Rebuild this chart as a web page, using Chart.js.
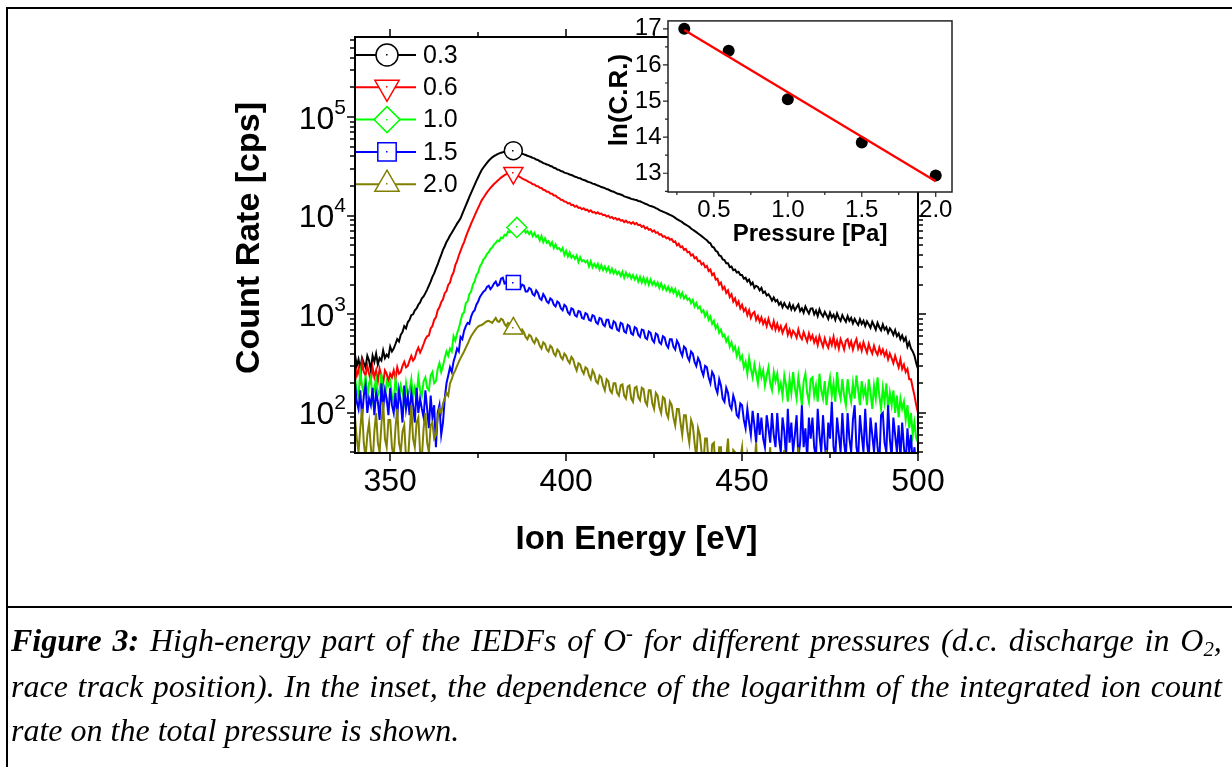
<!DOCTYPE html>
<html>
<head>
<meta charset="utf-8">
<script src="https://cdn.jsdelivr.net/npm/chart.js@4.4.1/dist/chart.umd.min.js"></script>
<style>
  html, body { margin: 0; padding: 0; background: #fff; }
  body { width: 1232px; height: 767px; position: relative; overflow: hidden; }
  #main { position: absolute; left: 0; top: 0; }
  #inset { position: absolute; left: 590px; top: 0; }
  .rule { position: absolute; background: #000; }
  .cap {
    position: absolute; left: 11px; width: 1211px;
    font: italic 32px "Liberation Serif", "Times New Roman", serif;
    line-height: 32px; white-space: nowrap; color: #000;
  }
  .cap.just { display: flex; justify-content: space-between; align-items: baseline; }
  .cap sup, .cap sub { font-size: 0.65em; line-height: 0; }
  .cap sup { vertical-align: 0.55em; }
  .cap sub { vertical-align: -0.25em; }
</style>
</head>
<body>
<canvas id="main" width="1232" height="767"></canvas>
<canvas id="inset" width="380" height="260"></canvas>

<div class="rule" style="left:6px;top:7px;width:1226px;height:2px"></div>
<div class="rule" style="left:6px;top:7px;width:2px;height:760px"></div>
<div class="rule" style="left:6px;top:606px;width:1226px;height:2px"></div>

<div class="cap just" style="top:624px"><span><b>Figure</b></span><span><b>3:</b></span><span>High-energy</span><span>part</span><span>of</span><span>the</span><span>IEDFs</span><span>of</span><span>O<sup>-</sup></span><span>for</span><span>different</span><span>pressures</span><span>(d.c.</span><span>discharge</span><span>in</span><span>O<sub>2</sub>,</span></div>
<div class="cap just" style="top:670px"><span>race</span><span>track</span><span>position).</span><span>In</span><span>the</span><span>inset,</span><span>the</span><span>dependence</span><span>of</span><span>the</span><span>logarithm</span><span>of</span><span>the</span><span>integrated</span><span>ion</span><span>count</span></div>
<div class="cap" style="top:714px">rate on the total pressure is shown.</div>

<script>
// ---------- IEDF spectra of O- (count rate in cps), sampled every 0.5 eV from 340 eV ----------
const ENERGY_START = 340;
const ENERGY_STEP = 0.5;
const pressureLabels = ['0.3', '0.6', '1.0', '1.5', '2.0'];   // Pa
const markerEnergy = [385, 385, 386, 385, 385];                // eV, where each curve carries its symbol

// one row = 10 eV
const cr03 = [
  390, 300, 350, 280, 360, 320, 290, 380, 340, 270, 380, 330, 400, 310, 360, 340, 430, 360, 390, 370,
  470, 420, 450, 500, 560, 530, 620, 660, 760, 720, 830, 880, 980, 1000, 1100, 1150, 1250, 1320, 1450, 1520,
  1640, 1780, 1950, 2150, 2400, 2600, 2900, 3200, 3600, 4000, 4500, 4900, 5400, 5800, 6300, 6700, 7200, 7700, 8300, 8800,
  9400, 10400, 11500, 12700, 14000, 15500, 17000, 18700, 20500, 22500, 24500, 26800, 29000, 30800, 32500, 34300, 36000, 37600, 39000, 40100,
  41000, 42000, 42800, 43500, 44000, 44600, 45000, 45300, 45500, 45600, 45600, 45000, 44500, 43700, 43000, 42400, 41800, 41200, 40500, 39900,
  39300, 38500, 38100, 37000, 36700, 35600, 35100, 34100, 33700, 33000, 32700, 31800, 31500, 30600, 30300, 29400, 29100, 28300, 28100, 27300,
  27000, 26700, 26100, 25800, 25400, 24800, 24600, 24000, 23900, 23300, 23000, 22700, 22200, 21900, 21600, 21100, 20900, 20600, 20200, 19900,
  19500, 19300, 19000, 18600, 18400, 18000, 17700, 17500, 17100, 16800, 16600, 16400, 16100, 15700, 15500, 15300, 15100, 14800, 14700, 14500,
  14400, 14100, 14000, 13700, 13500, 13200, 13000, 12700, 12500, 12400, 12200, 11900, 11700, 11400, 11200, 11000, 10800, 10600, 10400, 10200,
  10000, 9800, 9500, 9200, 9000, 8800, 8600, 8300, 8100, 7900, 7700, 7400, 7200, 7000, 6800, 6600, 6400, 6200, 6000, 5800,
  5650, 5350, 5250, 4850, 4750, 4400, 4300, 3950, 3900, 3600, 3550, 3300, 3300, 3000, 3050, 2800, 2850, 2650, 2700, 2500,
  2500, 2300, 2350, 2150, 2250, 2000, 2100, 1850, 1950, 1900, 1750, 1850, 1650, 1700, 1550, 1600, 1500, 1380, 1480, 1350,
  1400, 1250, 1320, 1180, 1300, 1200, 1150, 1280, 1120, 1230, 1100, 1180, 1260, 1080, 1150, 1040, 1200, 1100, 1020, 1140,
  1150, 1000, 1090, 960, 1120, 1010, 950, 1060, 980, 900, 1040, 930, 990, 880, 1020, 920, 860, 980, 900, 840,
  960, 860, 920, 810, 900, 830, 780, 890, 800, 860, 760, 850, 790, 730, 840, 770, 700, 820, 740, 690,
  790, 700, 740, 650, 720, 680, 620, 690, 600, 640, 560, 610, 540, 580, 470, 520, 450, 420, 380, 320,
  280
];
const cr06 = [
  300, 240, 280, 220, 330, 260, 240, 300, 250, 210, 290, 230, 270, 210, 280, 240, 200, 270, 250, 210,
  250, 230, 270, 220, 290, 250, 260, 300, 330, 290, 300, 340, 380, 340, 360, 420, 460, 410, 450, 500,
  560, 600, 610, 720, 760, 880, 930, 1100, 1180, 1330, 1420, 1640, 1720, 1990, 2100, 2450, 2650, 3150, 3450, 3950,
  4400, 4900, 5400, 6100, 6800, 7500, 8300, 9100, 10000, 11000, 12000, 13100, 14300, 15200, 16200, 17200, 18200, 19100, 20000, 20900,
  21700, 22600, 23400, 24300, 25000, 25700, 26300, 26800, 27000, 27100, 27000, 26200, 25500, 25100, 24500, 23800, 23300, 22900, 22400, 21900,
  21500, 20800, 20700, 20000, 19900, 19200, 19100, 18300, 18100, 17500, 17500, 16800, 16700, 16000, 16000, 15300, 15100, 14500, 14400, 13900,
  13800, 13300, 13400, 12800, 12900, 12300, 12600, 12000, 12100, 11600, 11900, 11400, 11500, 11000, 11300, 10800, 10900, 10500, 10800, 10400,
  10500, 10100, 10200, 9800, 10000, 9500, 9700, 9300, 9500, 9100, 9300, 8900, 9000, 8600, 8900, 8500, 8600, 8300, 8600, 8200,
  8400, 8000, 8100, 7700, 7900, 7400, 7600, 7200, 7300, 6900, 7100, 6700, 6800, 6400, 6500, 6100, 6200, 5900, 6000, 5700,
  5800, 5400, 5500, 5000, 5200, 4800, 4900, 4500, 4600, 4250, 4300, 3950, 4050, 3700, 3800, 3450, 3500, 3200, 3300, 3000,
  3100, 2750, 2850, 2500, 2600, 2250, 2300, 2000, 2100, 1800, 1900, 1650, 1750, 1500, 1600, 1350, 1450, 1250, 1350, 1150,
  1250, 1080, 1150, 980, 1100, 920, 1020, 1060, 880, 960, 840, 930, 800, 880, 760, 900, 780, 720, 850, 700,
  800, 690, 760, 650, 720, 780, 620, 700, 600, 680, 640, 580, 700, 600, 560, 660, 590, 530, 640, 560,
  610, 520, 580, 490, 600, 530, 470, 570, 500, 460, 560, 490, 590, 470, 540, 450, 560, 500, 440, 540,
  560, 470, 530, 440, 510, 560, 450, 500, 430, 520, 460, 410, 500, 440, 400, 480, 420, 390, 460, 400,
  440, 380, 420, 350, 400, 360, 320, 380, 330, 290, 350, 280, 310, 260, 280, 220, 220, 180, 150, 120,
  100
];
const cr10 = [
  230, 170, 150, 260, 190, 160, 240, 140, 200, 230, 140, 180, 220, 150, 170, 250, 160, 140, 210, 190,
  210, 150, 130, 220, 170, 140, 190, 160, 130, 200, 150, 170, 220, 140, 180, 150, 230, 170, 150, 210,
  230, 180, 170, 240, 260, 200, 210, 280, 320, 260, 300, 360, 420, 380, 450, 420, 600, 540, 640, 720,
  850, 1000, 1050, 1300, 1350, 1600, 1700, 2000, 2150, 2500, 2650, 3050, 3250, 3600, 3750, 4100, 4250, 4600, 4750, 5100,
  5300, 5600, 5500, 6000, 5900, 6400, 6300, 6900, 6800, 7300, 7200, 7700, 7600, 7100, 7400, 7000, 7300, 6700, 7000, 6500,
  6900, 6200, 6700, 6100, 6300, 5600, 6200, 5400, 5900, 5300, 5500, 5000, 5400, 4700, 5100, 4600, 4700, 4400, 4700, 4000,
  4400, 3850, 4250, 3750, 3950, 3650, 3950, 3400, 3800, 3450, 3550, 3350, 3500, 3050, 3450, 3000, 3250, 3000, 3250, 2850,
  3150, 2800, 3050, 2750, 3000, 2650, 2900, 2600, 2800, 2550, 2700, 2450, 2700, 2350, 2650, 2400, 2550, 2300, 2500, 2250,
  2450, 2150, 2400, 2100, 2350, 2050, 2300, 2000, 2250, 2000, 2150, 1950, 2100, 1850, 2050, 1800, 1950, 1750, 1900, 1700,
  1850, 1650, 1800, 1550, 1700, 1500, 1650, 1450, 1550, 1400, 1450, 1300, 1400, 1200, 1300, 1150, 1200, 1050, 1100, 950,
  1050, 880, 950, 800, 860, 720, 780, 650, 700, 600, 620, 530, 580, 470, 520, 430, 470, 380, 440, 350,
  380, 290, 330, 250, 360, 280, 230, 310, 250, 200, 290, 230, 270, 190, 240, 290, 200, 170, 260, 210,
  250, 170, 200, 150, 240, 190, 130, 220, 160, 260, 180, 140, 230, 170, 120, 210, 250, 160, 130, 220,
  230, 150, 190, 130, 250, 170, 140, 210, 120, 180, 230, 150, 200, 130, 260, 170, 140, 220, 150, 120,
  220, 160, 130, 200, 140, 240, 170, 120, 210, 150, 180, 120, 220, 160, 110, 190, 140, 230, 150, 110,
  180, 130, 200, 110, 160, 120, 170, 100, 150, 90, 140, 110, 130, 85, 120, 70, 100, 60, 80, 55,
  50
];
const cr15 = [
  200, 130, 110, 170, 90, 150, 190, 100, 140, 120, 180, 95, 160, 130, 85, 200, 110, 170, 140, 95,
  180, 120, 100, 160, 90, 170, 130, 80, 190, 110, 150, 95, 160, 120, 80, 180, 100, 140, 110, 90,
  170, 110, 70, 150, 90, 120, 45, 100, 120, 60, 80, 140, 200, 240, 290, 260, 330, 380, 450, 420,
  590, 560, 680, 760, 820, 800, 950, 1050, 1100, 1250, 1350, 1500, 1600, 1700, 1750, 1900, 1950, 1800, 1900, 2050,
  2150, 1950, 2000, 2300, 2350, 2050, 2100, 2450, 2400, 2100, 2100, 2250, 2150, 1900, 1850, 2000, 1950, 1700, 1700, 1850,
  1800, 1600, 1550, 1750, 1650, 1450, 1400, 1600, 1500, 1350, 1300, 1450, 1400, 1250, 1200, 1350, 1300, 1150, 1100, 1250,
  1200, 1050, 1000, 1150, 1120, 980, 950, 1080, 1060, 920, 900, 1030, 1000, 880, 860, 980, 960, 830, 800, 920,
  900, 790, 760, 880, 880, 740, 720, 850, 820, 700, 680, 820, 800, 670, 650, 780, 760, 640, 620, 740,
  720, 620, 590, 700, 690, 580, 560, 670, 650, 550, 520, 640, 620, 520, 500, 600, 580, 490, 460, 560,
  560, 470, 440, 540, 500, 420, 380, 470, 450, 370, 340, 420, 400, 330, 300, 360, 330, 270, 240, 300,
  290, 230, 200, 260, 240, 180, 160, 220, 190, 140, 130, 180, 160, 120, 110, 150, 130, 95, 90, 125,
  120, 85, 70, 110, 80, 60, 105, 75, 50, 100, 60, 90, 55, 45, 95, 70, 50, 100, 60, 45,
  100, 55, 40, 90, 65, 35, 110, 50, 80, 40, 60, 95, 35, 50, 120, 45, 70, 35, 90, 55,
  90, 45, 35, 110, 60, 40, 95, 50, 30, 80, 55, 130, 45, 35, 90, 60, 40, 100, 50, 35,
  100, 55, 40, 85, 120, 45, 35, 95, 60, 40, 110, 50, 35, 90, 60, 40, 80, 45, 30, 95,
  100, 50, 40, 120, 55, 35, 90, 60, 40, 75, 35, 80, 45, 30, 70, 40, 60, 30, 45, 25,
  30
];
const cr20 = [
  90, 55, 40, 70, 110, 50, 35, 60, 80, 45, 30, 65, 100, 50, 40, 75, 130, 55, 45, 85,
  85, 45, 35, 70, 110, 50, 40, 65, 75, 35, 30, 60, 120, 55, 45, 80, 90, 40, 35, 70,
  100, 50, 40, 75, 80, 55, 60, 90, 110, 100, 125, 140, 160, 150, 200, 220, 250, 270, 300, 330,
  360, 390, 420, 460, 500, 550, 600, 640, 680, 720, 750, 770, 780, 800, 830, 850, 860, 840, 820, 870,
  920, 850, 840, 900, 880, 800, 760, 820, 800, 730, 720, 760, 700, 650, 640, 700, 660, 590, 560, 620,
  600, 540, 510, 570, 540, 480, 450, 520, 500, 440, 420, 480, 460, 400, 380, 440, 420, 370, 350, 400,
  380, 340, 320, 370, 350, 300, 270, 320, 310, 270, 250, 290, 280, 240, 220, 270, 250, 210, 200, 240,
  230, 190, 170, 220, 210, 170, 160, 200, 200, 160, 150, 190, 195, 150, 140, 185, 190, 140, 130, 180,
  185, 145, 135, 180, 175, 130, 120, 170, 170, 125, 110, 160, 150, 115, 100, 145, 140, 100, 90, 130,
  120, 90, 75, 110, 110, 80, 60, 95, 95, 65, 50, 85, 75, 50, 35, 70, 60, 40, 30, 55,
  55, 30, 25, 48, 50, 25, 20, 45, 45, 20, 20, 35, 55, 25, 20, 42, 40, 18, 15, 35,
  45, 22, 20, 38, 30, 15, 18, 30, 50, 20, 20, 35, 30, 15, 15, 28, 45, 20, 20, 32,
  30, 15, 15, 30, 42, 15, 15, 25, 25, 15, 15, 22, 45, 18, 15, 25, 25, 15, 15, 20,
  40, 15, 15, 22, 25, 15, 15, 20, 42, 15, 15, 20, 25, 15, 15, 20, 40, 15, 15, 20,
  20, 15, 15, 20, 38, 15, 15, 20, 20, 15, 15, 20, 40, 15, 15, 20, 20, 15, 15, 20,
  20, 15, 15, 20, 20, 15, 15, 20, 20, 15, 15, 20, 20, 15, 15, 20, 20, 15, 15, 20,
  15
];
const spectra = [cr03, cr06, cr10, cr15, cr20];

// axis ticks of the spectrum plot
const energyTicks = [350, 400, 450, 500];
const energyMinorTicks = [375, 425, 475];
const countDecades = [2, 3, 4, 5];

// ---------- inset: ln of integrated count rate vs. pressure ----------
const pressurePa = [0.3, 0.6, 1.0, 1.5, 2.0];
const lnCountRate = [17.0, 16.39, 15.05, 13.85, 12.94];
const fitPressure = [0.3, 2.0];
const fitLnCountRate = [16.97, 12.78];
const pressureTicks = [0.5, 1.0, 1.5, 2.0];
const pressureMinorTicks = [0.25, 0.75, 1.25, 1.75];
const lnTicks = [13, 14, 15, 16, 17];
const lnMinorTicks = [12.5, 13.5, 14.5, 15.5, 16.5];

// ---------- styling ----------
const SANS = '"Liberation Sans", Arial, Helvetica, sans-serif';
const seriesColors = ['#000000', '#ff0000', '#00ff00', '#0000ff', '#808000'];
const markerStyles = [
  { style: 'circle',   rotation: 0,   radius: 9,  legendRadius: 11 },
  { style: 'triangle', rotation: 180, radius: 11, legendRadius: 14 },
  { style: 'rectRot',  rotation: 0,   radius: 10, legendRadius: 13 },
  { style: 'rect',     rotation: 0,   radius: 10, legendRadius: 13 },
  { style: 'triangle', rotation: 0,   radius: 11, legendRadius: 14 }
];
const legendLayout = { lineStart: 356, lineEnd: 416, markerX: 387, textX: 423, firstY: 55, rowGap: 32.3 };

function centerDot(ctx, color, x, y) {
  ctx.fillStyle = color;
  ctx.fillRect(Math.round(x) - 1, Math.round(y) - 1, 1.5, 1.5);
}

// frame, mirrored ticks, 10^n labels, y title and line+symbol legend of the spectrum plot
const spectrumDecor = {
  id: 'spectrumDecor',
  afterDraw(chart) {
    const { ctx, chartArea: a, scales: { x, y } } = chart;
    ctx.save();

    // dots in the middle of the curve symbols
    chart.data.datasets.forEach((ds, i) => {
      const k = Math.round((markerEnergy[i] - ENERGY_START) / ENERGY_STEP);
      const el = chart.getDatasetMeta(i).data[k];
      if (el) centerDot(ctx, seriesColors[i], el.x, el.y);
    });

    ctx.strokeStyle = '#000';
    ctx.lineWidth = 2;
    ctx.strokeRect(a.left, a.top, a.right - a.left, a.bottom - a.top);

    ctx.lineWidth = 1.5;
    ctx.beginPath();
    const xTick = (v, len) => {
      const p = Math.round(x.getPixelForValue(v));
      ctx.moveTo(p, a.bottom); ctx.lineTo(p, a.bottom + len);
      ctx.moveTo(p, a.top); ctx.lineTo(p, a.top - len);
    };
    const yTick = (v, len) => {
      const p = Math.round(y.getPixelForValue(v));
      ctx.moveTo(a.left, p); ctx.lineTo(a.left - len, p);
      ctx.moveTo(a.right, p); ctx.lineTo(a.right + len, p);
    };
    energyTicks.forEach(v => xTick(v, 8));
    energyMinorTicks.forEach(v => xTick(v, 5));
    for (let e = 1; e <= 5; e++) {
      for (let k = 1; k <= 9; k++) {
        const v = k * Math.pow(10, e);
        if (v < y.min || v > y.max) continue;
        yTick(v, k === 1 ? 8 : 5);
      }
    }
    ctx.stroke();

    // decade labels with superscript exponents
    ctx.fillStyle = '#000';
    ctx.textAlign = 'right';
    ctx.textBaseline = 'alphabetic';
    const labelRight = a.left - 9;
    countDecades.forEach(e => {
      const p = y.getPixelForValue(Math.pow(10, e));
      ctx.font = '21px ' + SANS;
      const expText = String(e);
      const expW = ctx.measureText(expText).width;
      ctx.fillText(expText, labelRight, p - 3.5);
      ctx.font = '32px ' + SANS;
      ctx.fillText('10', labelRight - expW, p + 11.5);
    });

    // rotated y-axis title
    ctx.save();
    ctx.translate(250, 238);
    ctx.rotate(-Math.PI / 2);
    ctx.font = 'bold 34px ' + SANS;
    ctx.textAlign = 'center';
    ctx.textBaseline = 'middle';
    ctx.fillText('Count Rate [cps]', 0, 0);
    ctx.restore();

    // legend
    chart.data.datasets.forEach((ds, i) => {
      const rowY = legendLayout.firstY + i * legendLayout.rowGap;
      ctx.strokeStyle = ds.borderColor;
      ctx.lineWidth = 2;
      ctx.beginPath();
      ctx.moveTo(legendLayout.lineStart, rowY);
      ctx.lineTo(legendLayout.lineEnd, rowY);
      ctx.stroke();
      ctx.fillStyle = '#fff';
      ctx.lineWidth = 1.5;
      Chart.helpers.drawPoint(ctx, {
        pointStyle: markerStyles[i].style,
        rotation: markerStyles[i].rotation,
        radius: markerStyles[i].legendRadius,
        borderWidth: 1.5
      }, legendLayout.markerX, rowY);
      centerDot(ctx, seriesColors[i], legendLayout.markerX, rowY);
      ctx.fillStyle = '#000';
      ctx.font = '25px ' + SANS;
      ctx.textAlign = 'left';
      ctx.textBaseline = 'middle';
      ctx.fillText(ds.label, legendLayout.textX, rowY + 1);
    });
    ctx.restore();
  }
};

new Chart(document.getElementById('main'), {
  type: 'line',
  data: {
    datasets: spectra.map((vals, i) => ({
      label: pressureLabels[i],
      data: vals.map((v, k) => ({ x: ENERGY_START + k * ENERGY_STEP, y: v })),
      borderColor: seriesColors[i],
      borderWidth: 2,
      tension: 0,
      fill: false,
      pointStyle: markerStyles[i].style,
      pointRotation: markerStyles[i].rotation,
      pointRadius: c => (c.raw && c.raw.x === markerEnergy[i]) ? markerStyles[i].radius : 0,
      pointHoverRadius: 0,
      pointBackgroundColor: '#fff',
      pointBorderColor: seriesColors[i],
      pointBorderWidth: 1.5,
      order: spectra.length - i
    }))
  },
  options: {
    responsive: false,
    animation: false,
    devicePixelRatio: 1,
    events: [],
    layout: { padding: { left: 230, right: 314, top: 37, bottom: 204 } },
    plugins: { legend: { display: false }, tooltip: { enabled: false } },
    scales: {
      x: {
        type: 'linear', min: 340, max: 500,
        grid: { display: false, drawTicks: false },
        border: { display: false },
        afterBuildTicks: s => { s.ticks = energyTicks.map(v => ({ value: v })); },
        ticks: { padding: 10, color: '#000', font: { family: SANS, size: 32 } },
        title: {
          display: true, text: 'Ion Energy [eV]', color: '#000',
          font: { family: SANS, size: 33, weight: 'bold', lineHeight: 1 },
          padding: { top: 0, bottom: 6.5 }
        },
        afterFit: s => { s.height = 110; }
      },
      y: {
        type: 'logarithmic', min: 39.3, max: 6.47e5,
        grid: { display: false, drawTicks: false },
        border: { display: false },
        afterBuildTicks: s => { s.ticks = countDecades.map(e => ({ value: Math.pow(10, e), major: true })); },
        ticks: { display: false },
        title: { display: false },
        afterFit: s => { s.width = 125; }
      }
    }
  },
  plugins: [spectrumDecor]
});

// white plot background, frame, outward ticks and y title of the inset
const insetDecor = {
  id: 'insetDecor',
  beforeDraw(chart) {
    const { ctx, chartArea: a } = chart;
    ctx.save();
    ctx.fillStyle = '#fff';
    ctx.fillRect(a.left, a.top, a.right - a.left, a.bottom - a.top);
    ctx.restore();
  },
  afterDraw(chart) {
    const { ctx, chartArea: a, scales: { x, y } } = chart;
    ctx.save();
    ctx.strokeStyle = '#222';
    ctx.lineWidth = 1.5;
    ctx.strokeRect(a.left, a.top, a.right - a.left, a.bottom - a.top);
    ctx.lineWidth = 1.2;
    ctx.beginPath();
    const xTick = (v, len) => { const p = x.getPixelForValue(v); ctx.moveTo(p, a.bottom); ctx.lineTo(p, a.bottom + len); };
    const yTick = (v, len) => { const p = y.getPixelForValue(v); ctx.moveTo(a.left, p); ctx.lineTo(a.left - len, p); };
    pressureTicks.forEach(v => xTick(v, 5));
    pressureMinorTicks.forEach(v => xTick(v, 3));
    lnTicks.forEach(v => yTick(v, 5));
    lnMinorTicks.forEach(v => yTick(v, 3));
    ctx.stroke();

    ctx.translate(30, 100);
    ctx.rotate(-Math.PI / 2);
    ctx.fillStyle = '#000';
    ctx.font = 'bold 26px ' + SANS;
    ctx.textAlign = 'center';
    ctx.textBaseline = 'middle';
    ctx.fillText('ln(C.R.)', 0, 0);
    ctx.restore();
  }
};

new Chart(document.getElementById('inset'), {
  type: 'scatter',
  data: {
    datasets: [
      {
        label: 'fit',
        data: fitPressure.map((p, i) => ({ x: p, y: fitLnCountRate[i] })),
        showLine: true,
        borderColor: '#ff0000',
        borderWidth: 2.3,
        pointRadius: 0,
        order: 0
      },
      {
        label: 'ln(C.R.)',
        data: pressurePa.map((p, i) => ({ x: p, y: lnCountRate[i] })),
        showLine: false,
        pointRadius: 6,
        pointBackgroundColor: '#000',
        pointBorderWidth: 0,
        order: 1
      }
    ]
  },
  options: {
    responsive: false,
    animation: false,
    devicePixelRatio: 1,
    events: [],
    layout: { padding: { left: 10, right: 18, top: 19, bottom: 13 } },
    plugins: { legend: { display: false }, tooltip: { enabled: false } },
    scales: {
      x: {
        type: 'linear', min: 0.19, max: 2.11,
        grid: { display: false, drawTicks: false },
        border: { display: false },
        afterBuildTicks: s => { s.ticks = pressureTicks.map(v => ({ value: v })); },
        ticks: { padding: 4, color: '#000', font: { family: SANS, size: 24 }, callback: v => v.toFixed(1) },
        title: {
          display: true, text: 'Pressure [Pa]', color: '#000',
          font: { family: SANS, size: 24, weight: 'bold', lineHeight: 1 },
          padding: { top: 0, bottom: 1 }
        },
        afterFit: s => { s.height = 55; }
      },
      y: {
        type: 'linear', min: 12.48, max: 17.22,
        grid: { display: false, drawTicks: false },
        border: { display: false },
        afterBuildTicks: s => { s.ticks = lnTicks.map(v => ({ value: v })); },
        ticks: { padding: 6.5, color: '#000', font: { family: SANS, size: 24 }, callback: v => String(v) },
        title: { display: false },
        afterFit: s => { s.width = 68; }
      }
    }
  },
  plugins: [insetDecor]
});
</script>
</body>
</html>
